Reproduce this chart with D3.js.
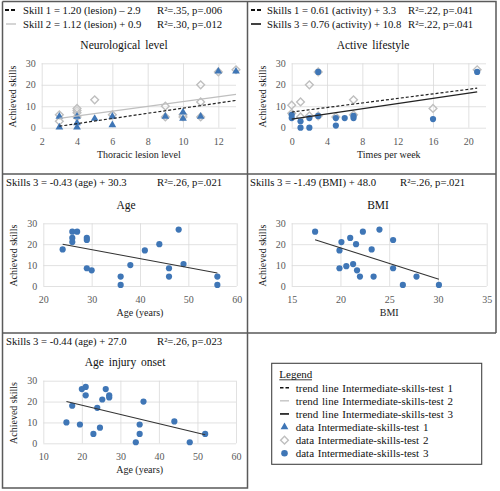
<!DOCTYPE html>
<html><head><meta charset="utf-8">
<script src="https://cdn.jsdelivr.net/npm/d3@7/dist/d3.min.js"></script>
<style>
body{margin:0;background:#fff}
svg{display:block}
text{font-family:"Liberation Serif","Times New Roman","DejaVu Serif",serif}
</style>
</head><body>
<svg id="chart" width="500" height="491"></svg>
<script>
// ---------- DATA ----------
const skillTicks = [0, 10, 20, 30];

// Panel 1: Neurological level (thoracic lesion level vs achieved skills)
const lesionTicks = [2, 4, 6, 8, 10, 12];
const lesionSkill1 = [[3,0],[3,5],[4,0],[4,2],[4,5],[5,4],[6,1],[6,5],[9,5],[10,4],[10,7],[11,5],[12,26],[13,26]];
const lesionSkill2 = [[3,3],[3,6],[4,5],[4,7],[4,8],[4,9],[5,13],[6,6],[9,5],[9,10],[10,5],[10,6],[11,5],[11,12],[11,20],[12,26],[13,27]];
const lesionTrend1 = [[3,0.7],[13,12.7]];
const lesionTrend2 = [[3,4.3],[13,15.5]];

// Panel 2: Active lifestyle (times per week)
const activityTicks = [0, 4, 8, 12, 16, 20];
const activitySkill2 = [[0,10.5],[0,6.7],[1,12],[1,5],[2,20],[2,5.5],[3,26],[3,5.5],[5,5],[7,13],[7,6],[16,9],[21,27]];
const activitySkill3 = [[0,4.5],[0,6],[1,3],[1,0],[2,0],[2,4.5],[3,26],[3,5.5],[5,1],[5,4.5],[6,4.5],[7,4.5],[7,5.5],[16,4],[21,26]];
const activityTrend1 = [[0,7.3],[21,18.4]];
const activityTrend3 = [[0,4],[21,16.7]];

// Panel 3: Age
const ageTicks = [20, 30, 40, 50, 60];
const ageSkill3 = [[24,17.5],[26,26],[27,26],[26,23],[26,21],[29,23],[29,22],[29,8.5],[30,7.5],[36,4.5],[36,0.5],[38,10],[41,17],[44,20],[48,27],[46,8.5],[46,4.5],[49,10.5],[56,4.5],[56,0.5]];
const ageTrend = [[24,20],[56,6.2]];

// Panel 4: BMI
const bmiTicks = [15, 20, 25, 30, 35];
const bmiSkill3 = [[17.4,26],[21,23],[22.3,26],[24,27],[20.1,21],[21.6,20],[25.4,22],[19.9,17],[23.2,17.5],[19.9,8.5],[20.6,9.5],[21.3,10.5],[21.7,7.5],[22,4.5],[23.4,4.5],[25.4,8.5],[26.4,0.5],[27.8,4.5],[30.1,0.5]];
const bmiTrend = [[17.4,22.1],[30.1,3.2]];

// Panel 5: Age injury onset
const onsetTicks = [10, 20, 30, 40, 50, 60];
const onsetSkill3 = [[16,10],[17.5,18],[19.5,9],[20,26],[21,27],[21,23],[23,4.5],[24,17],[24.7,7.5],[25.3,21],[26.2,26],[27.1,23],[27.1,22],[34,0.5],[35,9],[35,4.5],[36,20],[44,10.5],[48,0.5],[52,4.5]];
const onsetTrend = [[16,20],[52,4.1]];

// Legend entries
const legendItems = [
  "trend line Intermediate-skills-test 1",
  "trend line Intermediate-skills-test 2",
  "trend line Intermediate-skills-test 3",
  "data Intermediate-skills-test 1",
  "data Intermediate-skills-test 2",
  "data Intermediate-skills-test 3"
];

// ---------- STYLE ----------
const BLUE = "#3f76b6", GRAY = "#bfbfbf", GRID = "#d9d9d9", BORDER = "#5a5a5a";
const svg = d3.select("#chart");

// ---------- BORDERS ----------
const bd = svg.append("g").attr("stroke", BORDER).attr("stroke-width", 1.5).attr("fill", "none");
bd.append("path").attr("d", "M2.5,1.5 H496 V333 M2.5,1.5 V488 H247.5 V1.5 M2.5,174 H496 M2.5,333 H496");

// ---------- HELPERS ----------
const triangle = d3.symbol().type(d3.symbolTriangle).size(26);
const square = d3.symbol().type(d3.symbolSquare).size(30);

function panel(o) {
  const g = svg.append("g");
  const x = d3.scaleLinear().domain(o.xDomain).range([o.left, o.right]);
  const y = d3.scaleLinear().domain([0, 30]).range([o.bottom, o.top]);
  const h = o.bottom - o.top, w = o.right - o.left;
  // gridlines
  const gx = g.append("g").attr("transform", `translate(0,${o.bottom})`)
    .call(d3.axisBottom(x).tickValues(o.xTicks).tickSize(-h).tickFormat(""));
  gx.select(".domain").remove();
  gx.selectAll("line").attr("stroke", GRID).attr("stroke-width", 0.8);
  const gy = g.append("g").attr("transform", `translate(${o.left},0)`)
    .call(d3.axisLeft(y).tickValues(skillTicks).tickSize(-w).tickFormat(""));
  gy.select(".domain").remove();
  gy.selectAll("line").attr("stroke", GRID).attr("stroke-width", 0.8);
  // tick labels
  const lx = g.append("g").attr("transform", `translate(0,${o.bottom})`)
    .call(d3.axisBottom(x).tickValues(o.xTicks).tickSize(0).tickPadding(10));
  lx.select(".domain").remove();
  lx.attr("font-family", null);
  lx.selectAll("text").attr("fill", "#595959").attr("font-size", 10);
  const ly = g.append("g").attr("transform", `translate(${o.left},0)`)
    .call(d3.axisLeft(y).tickValues(skillTicks).tickSize(0).tickPadding(6));
  ly.select(".domain").remove();
  ly.attr("font-family", null);
  ly.selectAll("text").attr("fill", "#595959").attr("font-size", 10);
  // titles
  g.append("text").attr("x", o.titleX).attr("y", o.titleY).attr("text-anchor", "middle")
    .attr("font-size", 11.5).attr("word-spacing", 2).attr("fill", "#111").text(o.title);
  g.append("text").attr("x", (o.left + o.right) / 2).attr("y", o.bottom + 30).attr("text-anchor", "middle")
    .attr("font-size", 10).attr("fill", "#222").text(o.xTitle);
  g.append("text").attr("transform", `translate(${o.left - 26},${(o.top + o.bottom) / 2 + 1}) rotate(-90)`)
    .attr("text-anchor", "middle").attr("font-size", 10).attr("fill", "#222").text("Achieved skills");
  return {g, x, y};
}

function diamonds(p, data) {
  p.g.append("g").selectAll("path").data(data).join("path")
    .attr("d", square)
    .attr("transform", d => `translate(${p.x(d[0])},${p.y(d[1])}) rotate(45)`)
    .attr("fill", "#fff").attr("fill-opacity", 0.3).attr("stroke", GRAY).attr("stroke-width", 1.4);
}
function triangles(p, data) {
  p.g.append("g").selectAll("path").data(data).join("path")
    .attr("d", triangle)
    .attr("transform", d => `translate(${p.x(d[0])},${p.y(d[1]) - 0.5})`)
    .attr("fill", BLUE);
}
function circles(p, data) {
  p.g.append("g").selectAll("circle").data(data).join("circle")
    .attr("cx", d => p.x(d[0])).attr("cy", d => p.y(d[1])).attr("r", 3.1)
    .attr("fill", BLUE);
}
function trend(p, data, color, width, dash) {
  p.g.append("path").datum(data)
    .attr("d", d3.line().x(d => p.x(d[0])).y(d => p.y(d[1])))
    .attr("fill", "none").attr("stroke", color).attr("stroke-width", width)
    .attr("stroke-dasharray", dash || null);
}
function eqText(xp, yp, main, rx, stat) {
  const t = svg.append("g").attr("font-size", 10.7).attr("fill", "#111");
  t.append("text").attr("x", xp).attr("y", yp).text(main);
  t.append("text").attr("x", rx).attr("y", yp).text(stat);
}
function lineKey(x1, x2, yp, color, width, dash) {
  svg.append("line").attr("x1", x1).attr("x2", x2).attr("y1", yp).attr("y2", yp)
    .attr("stroke", color).attr("stroke-width", width).attr("stroke-dasharray", dash || null);
}

// ---------- PANEL 1 ----------
lineKey(5, 15, 10, "#111", 1.8, "4,2");
eqText(23, 14, "Skill 1 = 1.20 (lesion) \u2013 2.9", 157, "R\u00b2=.35, p=.006");
lineKey(6, 16, 24, GRAY, 1.3);
eqText(23, 28, "Skill 2 = 1.12 (lesion) + 0.9", 157, "R\u00b2=.30, p=.012");
const p1 = panel({left: 41.7, right: 236, top: 63.3, bottom: 127.7, xDomain: [2, 13], xTicks: lesionTicks,
  title: "Neurological level", titleX: 124, titleY: 49, xTitle: "Thoracic lesion level"});
diamonds(p1, lesionSkill2);
triangles(p1, lesionSkill1);
trend(p1, lesionTrend2, GRAY, 1.2);
trend(p1, lesionTrend1, "#222", 1.2, "3,2");

// ---------- PANEL 2 ----------
lineKey(251, 261, 10, "#111", 1.8, "4,2");
eqText(267, 14, "Skills 1 = 0.61 (activity) + 3.3", 408, "R\u00b2=.22, p=.041");
lineKey(251, 261, 24, "#111", 1.6);
eqText(267, 28, "Skills 3 = 0.76 (activity) + 10.8", 408, "R\u00b2=.22, p=.041");
const p2 = panel({left: 291.7, right: 486, top: 63.3, bottom: 127.7, xDomain: [0, 22], xTicks: activityTicks,
  title: "Active lifestyle", titleX: 373, titleY: 49, xTitle: "Times per week"});
diamonds(p2, activitySkill2);
circles(p2, activitySkill3);
trend(p2, activityTrend1, "#222", 1.2, "3,2");
trend(p2, activityTrend3, "#222", 1.2);

// ---------- PANEL 3 ----------
eqText(6, 186, "Skills 3 = -0.43 (age) + 30.3", 157, "R\u00b2=.26, p=.021");
const p3 = panel({left: 43.3, right: 236.7, top: 223.3, bottom: 286, xDomain: [20, 60], xTicks: ageTicks,
  title: "Age", titleX: 126, titleY: 209, xTitle: "Age (years)"});
circles(p3, ageSkill3);
trend(p3, ageTrend, "#333", 1.1);

// ---------- PANEL 4 ----------
eqText(250, 186, "Skills 3 = -1.49 (BMI) + 48.0", 400, "R\u00b2=.26, p=.021");
const p4 = panel({left: 291.7, right: 486.7, top: 223.3, bottom: 286, xDomain: [15, 35], xTicks: bmiTicks,
  title: "BMI", titleX: 378, titleY: 209, xTitle: "BMI"});
circles(p4, bmiSkill3);
trend(p4, bmiTrend, "#333", 1.1);

// ---------- PANEL 5 ----------
eqText(6, 345, "Skills 3 = -0.44 (age) + 27.0", 157, "R\u00b2=.26, p=.023");
const p5 = panel({left: 43.3, right: 236, top: 380.7, bottom: 443.3, xDomain: [10, 60], xTicks: onsetTicks,
  title: "Age injury onset", titleX: 125, titleY: 366, xTitle: "Age (years)"});
circles(p5, onsetSkill3);
trend(p5, onsetTrend, "#333", 1.1);

// ---------- LEGEND BOX ----------
const lg = svg.append("g");
lg.append("rect").attr("x", 271.7).attr("y", 363.3).attr("width", 210).attr("height", 101)
  .attr("fill", "#fff").attr("stroke", "#444").attr("stroke-width", 1.1);
lg.append("text").attr("x", 279.3).attr("y", 378).attr("font-size", 11).attr("fill", "#111").text("Legend");
lg.append("line").attr("x1", 279.3).attr("x2", 312).attr("y1", 379.8).attr("y2", 379.8).attr("stroke", "#111").attr("stroke-width", 0.8);
const legY = d3.scaleLinear().domain([0, 5]).range([387.7, 453.3]);
lg.selectAll("text.item").data(legendItems).join("text").attr("class", "item")
  .attr("x", 295.7).attr("y", (d, i) => legY(i) + 4).attr("font-size", 11).attr("word-spacing", 1).attr("fill", "#111")
  .text(d => d);
lg.append("line").attr("x1", 280).attr("x2", 289).attr("y1", legY(0)).attr("y2", legY(0)).attr("stroke", "#111").attr("stroke-width", 1.6).attr("stroke-dasharray", "3.5,2");
lg.append("line").attr("x1", 280).attr("x2", 289).attr("y1", legY(1)).attr("y2", legY(1)).attr("stroke", GRAY).attr("stroke-width", 1.3);
lg.append("line").attr("x1", 280).attr("x2", 289).attr("y1", legY(2)).attr("y2", legY(2)).attr("stroke", "#111").attr("stroke-width", 1.6);
lg.append("path").attr("d", triangle).attr("transform", `translate(284.5,${legY(3)})`).attr("fill", BLUE);
lg.append("path").attr("d", square).attr("transform", `translate(284.5,${legY(4)}) rotate(45)`).attr("fill", "#fff").attr("stroke", GRAY).attr("stroke-width", 1.4);
lg.append("circle").attr("cx", 284.5).attr("cy", legY(5)).attr("r", 3.3).attr("fill", BLUE);
</script>
</body></html>
